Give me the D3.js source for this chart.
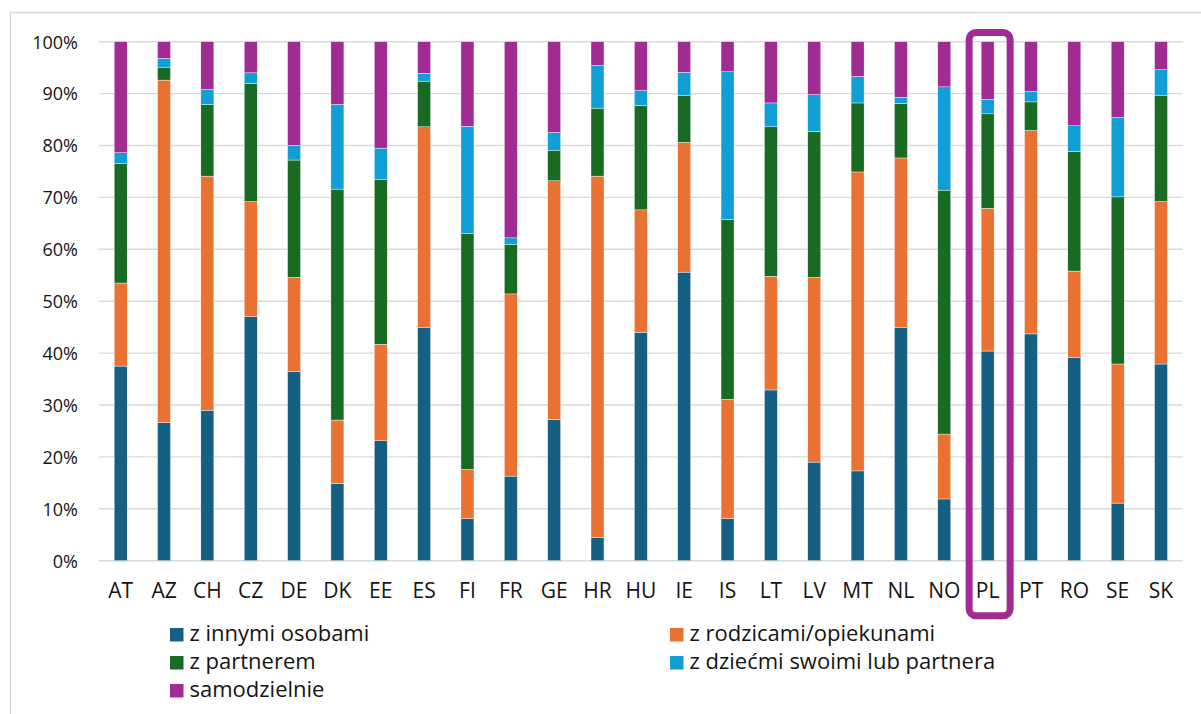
<!DOCTYPE html>
<html>
<head>
<meta charset="utf-8">
<script src="https://cdn.jsdelivr.net/npm/d3@7"></script>
<style>
  html, body { margin: 0; padding: 0; background: #fff; }
  svg { display: block; }
  text { font-family: "Open Sans", "Liberation Sans", sans-serif; fill: #141414; }
</style>
</head>
<body>
<svg id="chart" width="1201" height="714"></svg>
<script>
const categories = ["AT","AZ","CH","CZ","DE","DK","EE","ES","FI","FR","GE","HR","HU","IE","IS","LT","LV","MT","NL","NO","PL","PT","RO","SE","SK"];

const zInnymiOsobami   = [37.5,26.6,29.0,47.0,36.5,14.9,23.1,44.9, 8.1,16.3,27.2, 4.5,44.0,55.6, 8.1,32.9,19.0,17.3,44.9,11.9,40.4,43.7,39.1,11.1,37.9];
const zRodzicami       = [16.0,66.0,45.1,22.2,18.1,12.2,18.6,38.7, 9.5,35.1,46.0,69.6,23.6,25.0,23.0,21.9,35.6,57.6,32.7,12.5,27.5,39.2,16.7,26.8,31.3];
const zPartnerem       = [23.0, 2.5,13.8,22.8,22.6,44.5,31.7, 8.8,45.4, 9.5, 5.9,13.1,20.1, 9.0,34.7,28.8,28.1,13.3,10.5,47.0,18.2, 5.5,23.1,32.2,20.5];
const zDziecmi         = [ 2.1, 1.7, 2.9, 2.0, 2.8,16.3, 6.1, 1.5,20.7, 1.3, 3.4, 8.2, 2.9, 4.5,28.4, 4.6, 7.1, 5.1, 1.2,19.9, 2.8, 2.0, 4.9,15.3, 4.9];
const samodzielnie     = [21.4, 3.2, 9.2, 6.0,20.0,12.1,20.5, 6.1,16.3,37.8,17.5, 4.6, 9.4, 5.9, 5.8,11.8,10.2, 6.7,10.7, 8.7,11.1, 9.6,16.2,14.6, 5.4];

const seriesNames = ["z innymi osobami","z rodzicami/opiekunami","z partnerem","z dziećmi swoimi lub partnera","samodzielnie"];
const seriesValues = [zInnymiOsobami, zRodzicami, zPartnerem, zDziecmi, samodzielnie];
const seriesColors = ["#156082","#E97132","#196B24","#0F9ED5","#A02B93"];
const yTicks = [0,0.1,0.2,0.3,0.4,0.5,0.6,0.7,0.8,0.9,1.0];
const highlighted = "PL";

const svg = d3.select("#chart");

// outer chart frame
svg.append("path")
  .attr("d", "M10.5,714 L10.5,12.5 L1201,12.5")
  .attr("fill", "none").attr("stroke", "#d9d9d9").attr("stroke-width", 1.3);

const plotLeft = 99, plotRight = 1182.7, plotTop = 41.7, plotBottom = 560.7;

const x = d3.scaleBand().domain(categories).range([plotLeft, plotRight]).paddingInner(0.7).paddingOuter(0.35);
const y = d3.scaleLinear().domain([0, 1]).range([plotBottom, plotTop]);

const rows = categories.map((c, i) => {
  const r = { cat: c };
  seriesNames.forEach((s, j) => r[s] = seriesValues[j][i]);
  return r;
});
const stacked = d3.stack().keys(seriesNames).offset(d3.stackOffsetExpand)(rows);

// gridlines
svg.append("g").selectAll("line").data(yTicks).join("line")
  .attr("x1", plotLeft).attr("x2", plotRight)
  .attr("y1", d => y(d)).attr("y2", d => y(d))
  .attr("stroke", "#d9d9d9").attr("stroke-width", 1.4);

// y labels
const yAxis = d3.axisLeft(y).tickValues(yTicks).tickFormat(d3.format(".0%")).tickSize(0).tickPadding(0);
const gy = svg.append("g").attr("transform", "translate(78,0)").call(yAxis);
gy.select(".domain").remove();
gy.selectAll("text").attr("font-size", 18).attr("dy", "0.35em").attr("fill", "#141414")
  .style("font-family", "'Open Sans', sans-serif");

// bars
svg.append("g").selectAll("g").data(stacked).join("g")
  .attr("fill", (d, i) => seriesColors[i])
  .selectAll("rect").data(d => d).join("rect")
  .attr("x", d => x(d.data.cat))
  .attr("width", x.bandwidth())
  .attr("y", d => y(d[1]))
  .attr("height", d => y(d[0]) - y(d[1]))
  .attr("stroke", "#ffffff").attr("stroke-width", 0.4);

// x labels
const xAxis = d3.axisBottom(x).tickSize(0).tickPadding(0);
const gx = svg.append("g").attr("transform", "translate(0,598)").call(xAxis);
gx.select(".domain").remove();
gx.selectAll("text").attr("font-size", 21).attr("dy", 0).attr("fill", "#141414")
  .style("font-family", "'Open Sans', sans-serif");

// highlight box
const hx = x(highlighted) + x.bandwidth() / 2 + 2;
const hw = 41;
svg.append("rect")
  .attr("x", hx - hw / 2).attr("y", 32.5)
  .attr("width", hw).attr("height", 615.8 - 32.5)
  .attr("rx", 7).attr("ry", 7)
  .attr("fill", "none").attr("stroke", "#A02B93").attr("stroke-width", 7);

// legend
const legendPos = [[170, 634.5],[670, 634.5],[170, 662.5],[670, 662.5],[170, 690.5]];
const lg = svg.append("g").selectAll("g").data(seriesNames).join("g")
  .attr("transform", (d, i) => `translate(${legendPos[i][0]},${legendPos[i][1]})`);
lg.append("rect").attr("x", 0).attr("y", -6.5).attr("width", 13.5).attr("height", 13.5)
  .attr("fill", (d, i) => seriesColors[i]);
lg.append("text").attr("x", 19.5).attr("y", 6.8).attr("font-size", 22).text(d => d);
</script>
</body>
</html>
